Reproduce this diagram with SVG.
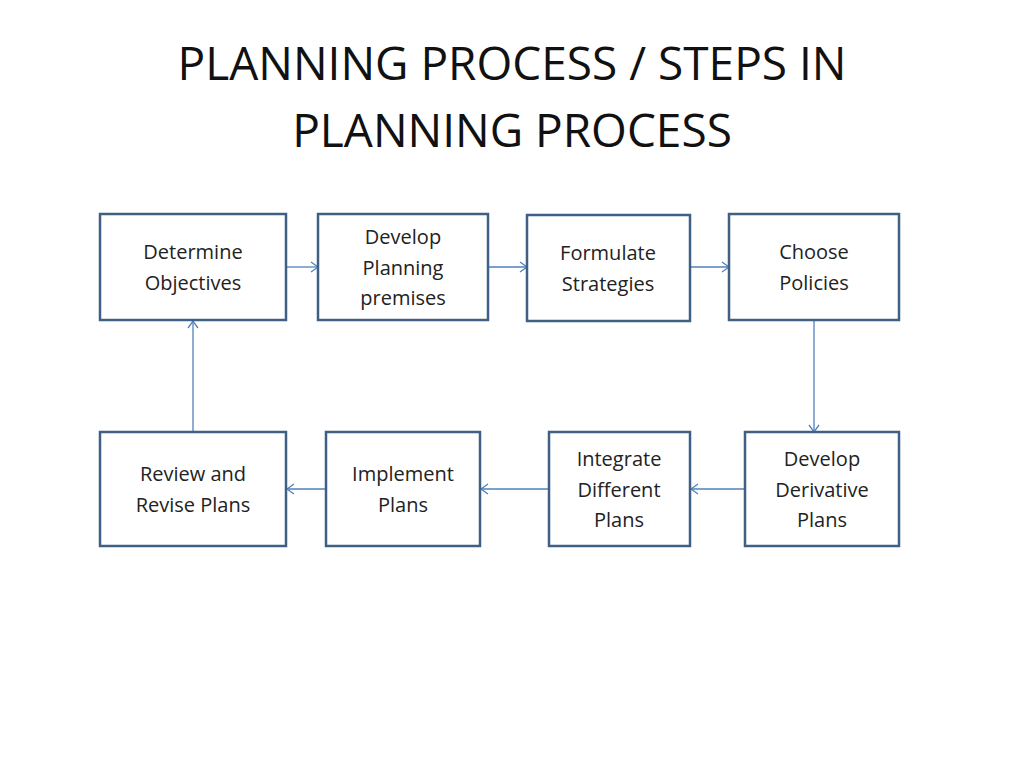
<svg xmlns="http://www.w3.org/2000/svg" width="1024" height="768" viewBox="0 0 1024 768">
<style>
.b{fill:#fff;stroke:#3f5f85;stroke-width:2.5}
.t{font-family:"Open Sans","Liberation Sans",sans-serif;font-size:20px;fill:#222;text-anchor:middle}
.h{font-family:"Open Sans","Liberation Sans",sans-serif;font-size:46px;fill:#111;text-anchor:middle}
.c{stroke:#4f81bd;stroke-width:1.3;fill:none;marker-end:url(#a)}
</style>
<defs><marker id="a" markerWidth="12" markerHeight="12" refX="10" refY="6" orient="auto" markerUnits="userSpaceOnUse"><path d="M3,1 L10,6 L3,11" fill="none" stroke="#4f81bd" stroke-width="1.3"/></marker></defs>
<rect width="1024" height="768" fill="#fff"/>
<text class="h" x="512" y="80">PLANNING PROCESS / STEPS IN</text>
<text class="h" x="512" y="147">PLANNING PROCESS</text>
<g id="connectors">
<line class="c" x1="287" y1="267" x2="318" y2="267"/>
<line class="c" x1="489" y1="267" x2="527" y2="267"/>
<line class="c" x1="691" y1="267" x2="729" y2="267"/>
<line class="c" x1="814" y1="321" x2="814" y2="432"/>
<line class="c" x1="745" y1="489" x2="691" y2="489"/>
<line class="c" x1="549" y1="489" x2="481" y2="489"/>
<line class="c" x1="326" y1="489" x2="287" y2="489"/>
<line class="c" x1="193" y1="432" x2="193" y2="321"/>
</g>
<g id="n1"><rect class="b" x="100" y="214" width="186" height="106"/><text class="t" x="193" y="259">Determine</text><text class="t" x="193" y="290">Objectives</text></g>
<g id="n2"><rect class="b" x="318" y="214" width="170" height="106"/><text class="t" x="403" y="244">Develop</text><text class="t" x="403" y="275">Planning</text><text class="t" x="403" y="305">premises</text></g>
<g id="n3"><rect class="b" x="527" y="215" width="163" height="106"/><text class="t" x="608" y="260">Formulate</text><text class="t" x="608" y="291">Strategies</text></g>
<g id="n4"><rect class="b" x="729" y="214" width="170" height="106"/><text class="t" x="814" y="259">Choose</text><text class="t" x="814" y="290">Policies</text></g>
<g id="n5"><rect class="b" x="745" y="432" width="154" height="114"/><text class="t" x="822" y="466">Develop</text><text class="t" x="822" y="497">Derivative</text><text class="t" x="822" y="527">Plans</text></g>
<g id="n6"><rect class="b" x="549" y="432" width="141" height="114"/><text class="t" x="619" y="466">Integrate</text><text class="t" x="619" y="497">Different</text><text class="t" x="619" y="527">Plans</text></g>
<g id="n7"><rect class="b" x="326" y="432" width="154" height="114"/><text class="t" x="403" y="481">Implement</text><text class="t" x="403" y="512">Plans</text></g>
<g id="n8"><rect class="b" x="100" y="432" width="186" height="114"/><text class="t" x="193" y="481">Review and</text><text class="t" x="193" y="512">Revise Plans</text></g>
</svg>
